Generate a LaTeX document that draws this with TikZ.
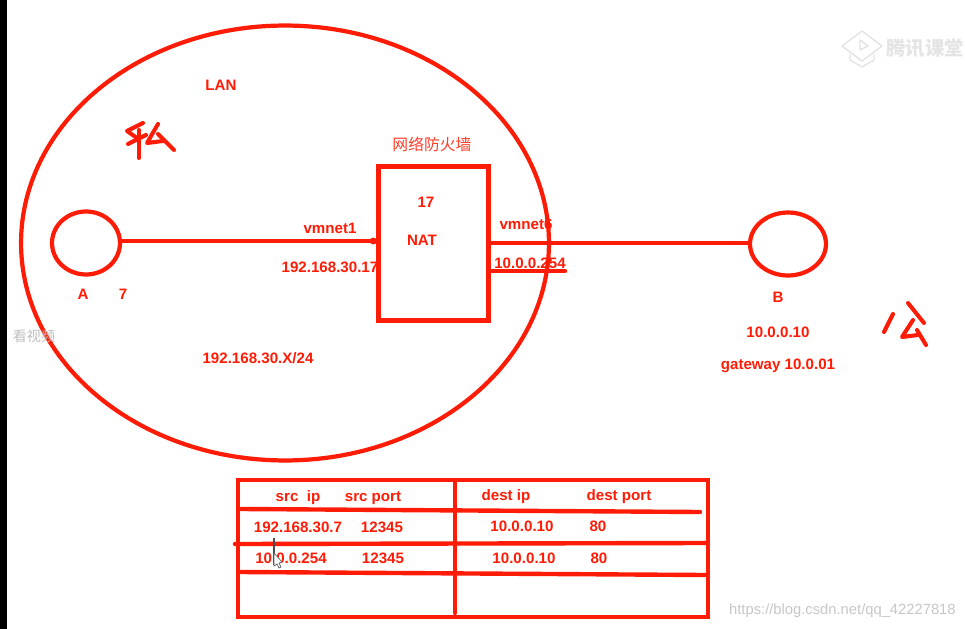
\documentclass[tikz,border=0pt]{standalone}
\usepackage{fontspec}
\setmainfont{Liberation Sans}
\newfontfamily\cjkfont{Noto Sans CJK SC}
\usetikzlibrary{shapes.geometric}
\definecolor{penred}{RGB}{255,28,6}
\definecolor{markgray}{RGB}{228,228,228}
\tikzset{
	lbl/.style={text=penred, font=\fontsize{8.6}{10}\selectfont\bfseries, inner sep=0pt},
	hostnode/.style={draw=penred, ellipse, line width=2.4pt, inner sep=0pt},
	pen/.style={draw=penred, line width=2.5pt, line cap=round, line join=round},
	stroke/.style={draw=penred, line width=2.3pt, line cap=round, line join=round},
}
\def\xscale{0.02}
\def\yscale{-0.02}

\begin{document}
\begin{tikzpicture}[x=\xscale cm, y=\yscale cm]
			\useasboundingbox (0, 0) rectangle (965, 629);
			\fill[white] (0, 0) rectangle (965, 629);
			\fill[black] (0, 0) rectangle (7, 629);
			
			% labels under the big ellipse
			\node[lbl] (vm6) at (526, 224) {vmnet6};
			\node[lbl] (ip254) at (530, 263) {10.0.0.254};
			
			\node[hostnode, minimum width=10.56cm, minimum height=8.7cm] (lan) at (285, 243) {};
			\node[hostnode, minimum width=1.36cm, minimum height=1.26cm] (A) at (86, 243) {};
			\node[hostnode, minimum width=1.52cm, minimum height=1.26cm] (B) at (788, 244) {};
			\node[draw=penred, line width=2.6pt, minimum width=2.2cm, minimum height=3.08cm, inner sep=0pt] (nat) at (433.5, 243.5) {};
			
			\coordinate (natl) at (nat.west |- 0, 241);
			\coordinate (natr) at (nat.east |- 0, 243);
			\coordinate (u1) at (491, 271);
			\coordinate (u2) at (565, 271);
			\draw[pen] (A.east |- natl) -- (natl);
			\draw[pen] (natr) -- (B.west |- natr);
			\draw[pen] (u1) -- (u2);
			\fill[penred] (natl) ++(-3, 0) circle (3.5);
			
			\node[lbl] (lanlbl) at (221, 85) {LAN};
			\node[lbl, font=\cjkfont\fontsize{9}{10}\selectfont, text=penred!85] (fw) at (432, 144) {网络防火墙};
			\node[lbl] (n17) at (426, 202) {17};
			\node[lbl] (natlbl) at (422, 240) {NAT};
			\node[lbl] (vm1) at (330, 228) {vmnet1};
			\node[lbl] (ip17) at (330, 267) {192.168.30.17};
			\node[lbl] (Albl) at (83, 294) {A};
			\node[lbl] (n7) at (123, 294) {7};
			\node[lbl] (subnet) at (258, 358) {192.168.30.X/24};
			\node[lbl] (Blbl) at (778, 297) {B};
			\node[lbl] (ipB) at (778, 332) {10.0.0.10};
			\node[lbl] (gw) at (778, 366) {gateway 10.0.01};
			
			% handwritten
			\draw[stroke] (143, 123) -- (127, 131) -- (137, 138);
			\draw[stroke] (128, 144) -- (146, 135);
			\draw[stroke] (139, 130) -- (139, 158);
			\draw[stroke] (158, 124) -- (147, 143) -- (163, 141);
			\draw[stroke] (158, 134) -- (174, 150);
			
			\draw[stroke] (893, 314) -- (884, 332);
			\draw[stroke] (908, 303) -- (924, 323);
			\draw[stroke] (913, 320) -- (902, 337) -- (918, 335);
			\draw[stroke] (917, 330) -- (926, 345);
			
			% table
			\node[draw=penred, line width=2.7pt, minimum width=9.4cm, minimum height=2.74cm, inner sep=0pt] (tbl) at (473, 548.5) {};
			\coordinate (mid1) at (455, 481);
			\coordinate (mid2) at (455, 613);
			\draw[pen] (mid1) -- (mid2);
			\foreach \xa/\ya/\xb/\yb in {241/509/700/512, 235/544/707/543, 240/572/705/575} {
				\coordinate (ra) at (\xa, \ya);
				\coordinate (rb) at (\xb, \yb);
				\draw[pen] (ra) -- (rb);
			}
			
			\foreach \x/\y/\t [count=\i] in {298/498/{src\ \ ip}, 373/498/src port, 506/497/dest ip, 619/497/dest port,
				298/527/192.168.30.7, 382/527/12345, 522/526/10.0.0.10, 598/526/80,
				291/558/10.0.0.254, 383/558/12345, 524/558/10.0.0.10, 599/558/80} {
				\node[lbl] (cell\i) at (\x, \y) {\t};
			}
			
			% pointer
			\draw[black!70, line width=0.7pt] (274, 538) -- (274, 565);
			\draw[black!60, fill=white, line width=0.4pt] (274, 553) -- (274, 566) -- (277, 564) -- (279, 568) -- (281, 567) -- (279, 563) -- (282, 562) -- cycle;
			
			% watermarks
			\node[text=markgray, font=\cjkfont\fontsize{11}{15}\selectfont\bfseries, anchor=west, inner sep=0pt] (wm) at (886, 48) {腾讯课堂};
			\node[text=white!75!black, font=\cjkfont\fontsize{8}{9}\selectfont, inner sep=0pt] (wm2) at (34, 336) {看视频};
			\node[text=white!78!black, font=\fontsize{8.4}{10}\selectfont, anchor=east, inner sep=0pt] (wm3) at (956, 611) {https://blog.csdn.net/qq\_42227818};
			\draw[markgray, line width=0.8pt, line join=round] (862, 31) -- (882, 46) -- (862, 61) -- (842, 46) -- cycle;
			\draw[markgray, line width=0.8pt, line join=round] (860, 40) -- (868, 46) -- (860, 50) -- cycle;
			\draw[markgray, line width=0.8pt, line join=round] (850, 54) -- (850, 60) -- (862, 67) -- (874, 60) -- (874, 54);
		\end{tikzpicture}
\end{document}
